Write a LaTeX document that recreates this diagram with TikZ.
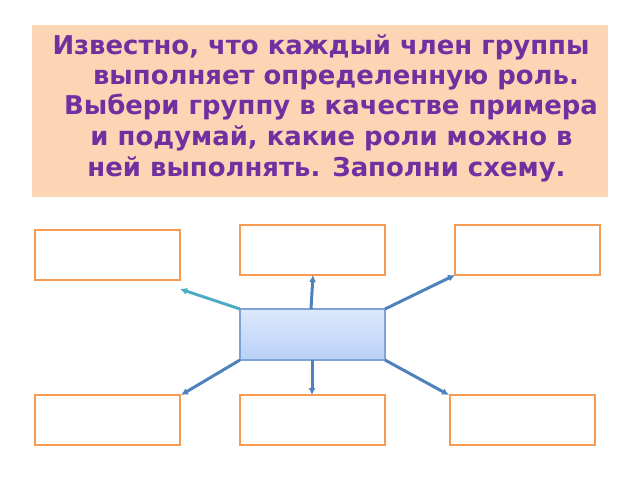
\documentclass[tikz,border=0pt]{standalone}
\usepackage{fontspec}
\setmainfont{DejaVu Sans}
\usetikzlibrary{arrows.meta}
\definecolor{hdrbg}{HTML}{FCD5B5}
\definecolor{hdrtxt}{HTML}{7030A0}
\definecolor{boxor}{HTML}{F79A52}
\definecolor{arrblue}{HTML}{4F81BD}
\definecolor{arrteal}{HTML}{4BACC6}
\definecolor{ctop}{HTML}{DDE9FC}
\definecolor{cbot}{HTML}{B9D1F7}
\definecolor{cbord}{HTML}{7FA2D6}
\begin{document}
\begin{tikzpicture}[x=1bp,y=-1bp,
  rolebox/.style={draw=boxor,line width=2bp,fill=white,minimum width=145bp,minimum height=50bp},
  conn/.style={draw=arrblue,line width=3bp,-{Latex[length=7bp,width=7bp]}},
  hline/.style={text=hdrtxt,font=\bfseries\fontsize{26}{30}\selectfont,anchor=base},
  every node/.style={inner sep=0pt,outer sep=0pt}]
\useasboundingbox (0,0) rectangle (640,480);
\fill[white] (0,0) rectangle (640,480);
% header
\node[fill=hdrbg,minimum width=576bp,minimum height=172bp] (hdrbox) at (320,111) {};
\node[hline] (h1) at (321,55) {Известно, что каждый член группы};
\node[hline] (h2) at (336,85) {выполняет определенную роль.};
\node[hline] (h3) at (331,115) {Выбери группу в качестве примера};
\node[hline] (h4) at (331.5,146) {и подумай, какие роли можно в};
\node[hline] (h5) at (326.5,177) {ней выполнять. Заполни схему.};
% boxes
\node[rolebox] (btl) at (107.5,255) {};
\node[rolebox] (btm) at (312.5,250) {};
\node[rolebox] (btr) at (527.5,250) {};
\node[rolebox] (bbl) at (107.5,420) {};
\node[rolebox] (bbm) at (312.5,420) {};
\node[rolebox] (bbr) at (522.5,420) {};
% center
\node[top color=ctop,bottom color=cbot,draw=cbord,line width=1.2bp,minimum width=145bp,minimum height=51bp] (ctr) at (312.5,334.5) {};
\draw[conn,draw=arrteal] (ctr.north west) -- ([yshift=-9bp]btl.south east);
\draw[conn] ([xshift=-1.5bp]ctr.north) -- ([xshift=0.5bp]btm.south);
\draw[conn] (ctr.north east) -- (btr.south west);
\draw[conn] (ctr.south west) -- ([xshift=1bp]bbl.north east);
\draw[conn] ([xshift=-0.5bp]ctr.south) -- ([xshift=-0.5bp]bbm.north);
\draw[conn] (ctr.south east) -- ([xshift=-1bp]bbr.north west);
\end{tikzpicture}
\end{document}
